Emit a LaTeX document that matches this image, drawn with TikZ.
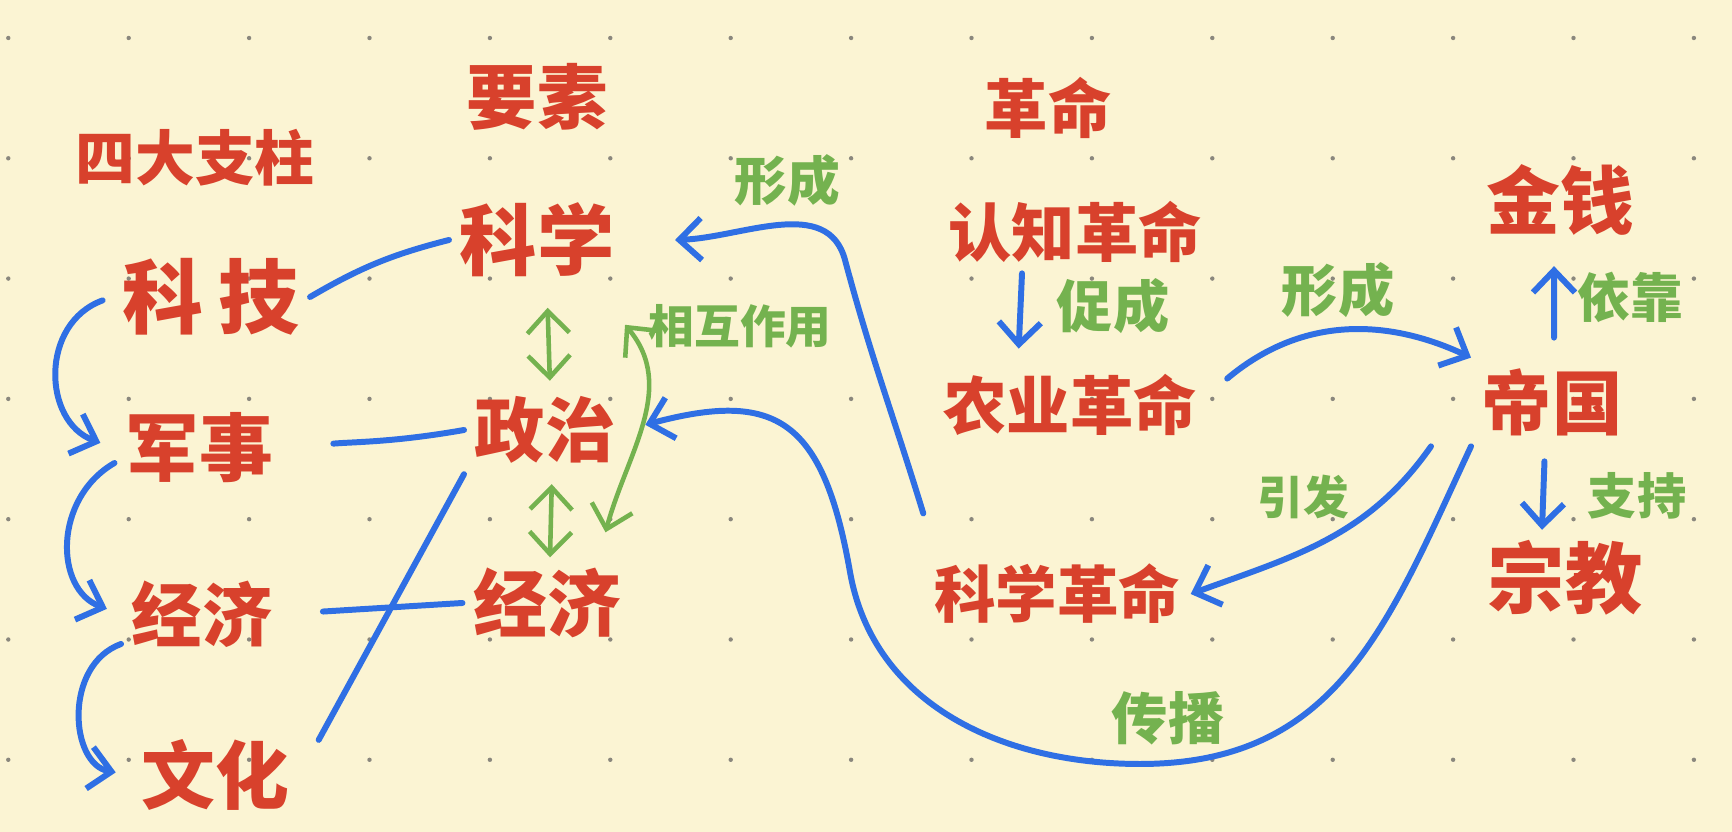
\documentclass[tikz,border=0pt]{standalone}
\usepackage{fontspec}
\setmainfont{Noto Sans CJK SC}
\usetikzlibrary{arrows.meta}
\definecolor{paper}{HTML}{FBF4D3}
\definecolor{ink}{HTML}{D8412C}
\definecolor{pen}{HTML}{2F6FE4}
\definecolor{leaf}{HTML}{74B24F}
\definecolor{dotgray}{HTML}{8A877D}
\begin{document}
\begin{tikzpicture}[line join=round, line cap=round, >={Straight Barb[length=2.2mm,width=4.2mm]}, x=1cm, y=1cm,
	hand/.style={text=ink, inner sep=1mm, font=\fontsize{#1}{#1}\selectfont\bfseries},
	note/.style={text=leaf, inner sep=0.5mm, font=\fontsize{#1}{#1}\selectfont\bfseries},
	link/.style={pen, line width=1.7pt},
	twin/.style={leaf, line width=1.3pt, <->}]
	\fill[paper] (0,0) rectangle (17.32,8.32);
	\useasboundingbox (0,0) rectangle (17.32,8.32);
	
	\foreach \i in {0,...,14}
	\foreach \j in {0,...,6}
	\fill[dotgray] (0.083+1.204*\i, 7.94-1.203*\j) circle (0.022);
	
	\path
	(1.95,6.74) node[hand=17] (pillar) {四大支柱}
	(2.11,5.35) node[hand=23] (tech) {科\hspace{1.5mm}技}
	(1.99,3.84) node[hand=21] (mil) {军事}
	(2.02,2.18) node[hand=20] (econL) {经济}
	(2.15,0.57) node[hand=21] (cult) {文化}
	(5.37,7.35) node[hand=20] (elem) {要素}
	(5.37,5.92) node[hand=22] (sci) {科学}
	(5.45,4.02) node[hand=20] (pol) {政治}
	(5.47,2.29) node[hand=21] (econR) {经济}
	(10.48,7.24) node[hand=18] (rev) {革命}
	(10.75,6.00) node[hand=18] (cogrev) {认知革命}
	(10.70,4.27) node[hand=18] (agrrev) {农业革命}
	(10.57,2.38) node[hand=17.5] (scirev) {科学革命}
	(15.52,4.30) node[hand=20] (empire) {帝国}
	(15.60,6.32) node[hand=21] (money) {金钱}
	(15.65,2.54) node[hand=22] (faith) {宗教};
	
	\path
	(7.87,6.52) node[note=15] (formA) {形成}
	(7.40,5.06) node[note=13] (inter) {相互作用}
	(11.13,5.26) node[note=16] (spur) {促成}
	(13.38,5.42) node[note=16] (formB) {形成}
	(16.30,5.35) node[note=15] (rely) {依靠}
	(16.37,3.36) node[note=14] (back) {支持}
	(13.03,3.35) node[note=13] (cause) {引发}
	(11.68,1.14) node[note=16] (spread) {传播};
	
	% four pillars
	\draw[link,->,shorten <=1mm,shorten >=1.5mm] (tech.west) to[out=200,in=160,looseness=1.3] (mil.west);
	\draw[link,->,shorten >=1.5mm] ([yshift=-1.5mm]mil.west) to[out=210,in=160,looseness=1.2] (econL.west);
	\draw[link,->,shorten >=1.5mm] ([yshift=-3mm]econL.west) to[out=200,in=170,looseness=1.2] (cult.west);
	\draw[link] (tech.east) to[bend left=8] (sci.west);
	\draw[link,shorten <=5mm] (mil.east) to[out=5,in=190] (pol.west);
	\draw[link,shorten <=4mm] (econL.east) -- (econR.west);
	\draw[link,shorten <=4mm] (cult.east) -- (pol.south west);
	
	% elements
	\draw[twin,shorten <=2mm,shorten >=0.5mm] ([xshift=1mm]sci.south) -- ([xshift=0.5mm]pol.north);
	\draw[twin,shorten <=1mm] ([xshift=0.7mm]pol.south) -- ([xshift=0.3mm]econR.north);
	\draw[twin] ([yshift=-3.7mm]sci.south east) to[out=-50,in=75] ([shift={(-2.6mm,2.5mm)}]econR.north east);
	
	% revolutions
	\draw[link,->,shorten >=1.5mm] ([xshift=-5.3mm]cogrev.south) -- ([xshift=-5.2mm]agrrev.north);
	\draw[link,->] ([shift={(2mm,-1.5mm)}]agrrev.north east) to[out=40,in=155] (empire.north west);
	\draw[link,->,shorten <=2mm,shorten >=2mm] ([xshift=0.2mm]empire.north) -- ([xshift=-0.6mm]money.south);
	\draw[link,->,shorten <=1.5mm] ([xshift=-0.7mm]empire.south) -- ([xshift=-2.3mm]faith.north);
	\draw[link,->] ([xshift=-4mm]empire.south west) to[out=-125,in=20] (scirev.east);
	\draw[link,->] ([yshift=4mm]scirev.north west) to[out=107,in=-75] (8.45,5.72) to[out=105,in=2] ([xshift=5mm]sci.east);
	\draw[link,->,shorten >=2mm] (empire.south west) to[out=-115,in=0,looseness=1.1] (11.4,0.68) to[out=180,in=-80] (8.5,2.6) to[out=100,in=15,looseness=1.5] (pol.east);
\end{tikzpicture}
\end{document}
